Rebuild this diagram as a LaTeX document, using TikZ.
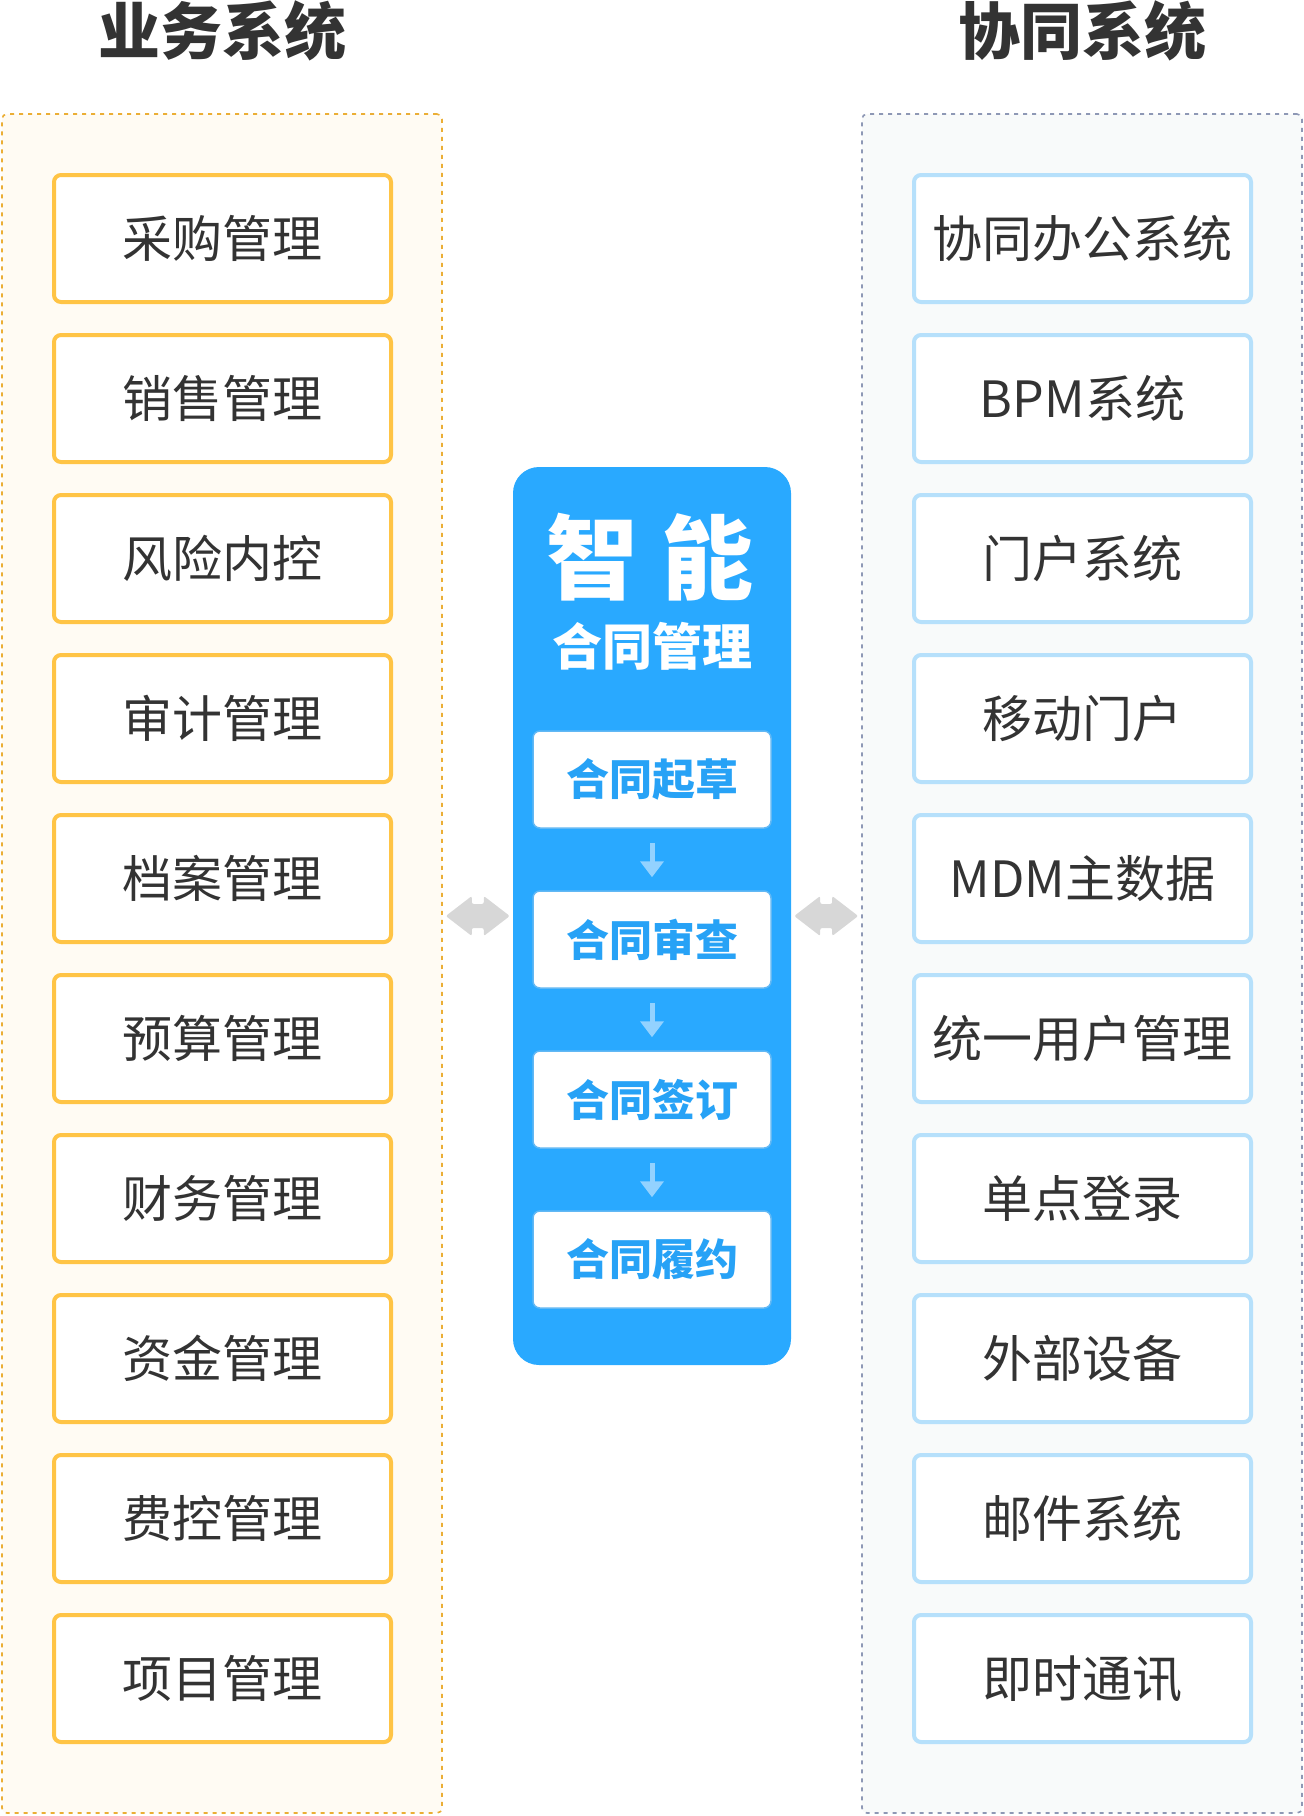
\documentclass[tikz,border=0pt]{standalone}
\usepackage{fontspec}
\setmainfont{Noto Sans CJK SC}
\usetikzlibrary{arrows.meta,calc}
\definecolor{lfill}{HTML}{FFFBF3}
\definecolor{ldash}{HTML}{EBAE35}
\definecolor{lbox}{HTML}{FFC445}
\definecolor{rfill}{HTML}{F8FAFA}
\definecolor{rdash}{HTML}{8E98B5}
\definecolor{rbox}{HTML}{B6E0FB}
\definecolor{mainblue}{HTML}{29A9FF}
\definecolor{subline}{HTML}{62B8F4}
\definecolor{subtext}{HTML}{27A2F6}
\definecolor{darrow}{HTML}{93D2FF}
\definecolor{garrow}{HTML}{D7D7D7}
\definecolor{txt}{HTML}{333333}
\begin{document}
\begin{tikzpicture}[x=1pt,y=-1pt,
  title/.style={font=\fontsize{62}{62}\selectfont\bfseries, text=txt, inner sep=0pt},
  lpanel/.style={draw=ldash, fill=lfill, line width=1.6pt, dash pattern=on 4pt off 5pt, rounded corners=5pt, minimum width=440pt, minimum height=1699pt, inner sep=0pt},
  rpanel/.style={draw=rdash, fill=rfill, line width=1.6pt, dash pattern=on 4pt off 5pt, rounded corners=5pt, minimum width=440pt, minimum height=1699pt, inner sep=0pt},
  sysbox/.style={fill=white, line width=4pt, rounded corners=7pt, minimum width=337pt, minimum height=127pt, inner sep=0pt, text=txt, font=\fontsize{50}{50}\selectfont},
  lsys/.style={sysbox, draw=lbox},
  rsys/.style={sysbox, draw=rbox},
  bluebox/.style={fill=mainblue, rounded corners=26pt, minimum width=278pt, minimum height=898pt, inner sep=0pt},
  stepbox/.style={fill=white, draw=subline, line width=1.5pt, rounded corners=7pt, minimum width=238pt, minimum height=97pt, inner sep=0pt, text=subtext, font=\fontsize{43}{43}\selectfont\bfseries},
  flow/.style={draw=darrow, line width=5pt, -{Triangle[width=23pt,length=16pt]}},
  garrowshape/.style={fill=garrow, rounded corners=2pt}
]
\useasboundingbox (0,0) rectangle (1304,1816);

% titles
\node[title] (t1) at (222,31) {业务系统};
\node[title] (t2) at (1082,31) {协同系统};

% panels
\node[lpanel] (L) at (222,963.5) {};
\node[rpanel] (R) at (1082,963.5) {};

% left boxes
\foreach \i/\t in {0/采购管理,1/销售管理,2/风险内控,3/审计管理,4/档案管理,5/预算管理,6/财务管理,7/资金管理,8/费控管理,9/项目管理}{
  \node[lsys] (l\i) at (222.5,{238.5+160*\i}) {\t};
}
% right boxes
\foreach \i/\t in {0/协同办公系统,1/BPM系统,2/门户系统,3/移动门户,4/MDM主数据,5/统一用户管理,6/单点登录,7/外部设备,8/邮件系统,9/即时通讯}{
  \node[rsys] (r\i) at (1082.5,{238.5+160*\i}) {\t};
}

% center
\node[bluebox] (B) at (652,916) {};
\node[font=\fontsize{92}{92}\selectfont\bfseries, text=white, inner sep=0pt] (zn) at (650,557) {智\hspace{24pt}能};
\node[font=\fontsize{50}{50}\selectfont\bfseries, text=white, inner sep=0pt] (ht) at (652,646) {合同管理};

\node[stepbox] (s1) at (652,779.5) {合同起草};
\node[stepbox] (s2) at (652,939.5) {合同审查};
\node[stepbox] (s3) at (652,1099.5) {合同签订};
\node[stepbox] (s4) at (652,1259.5) {合同履约};

\draw[flow] ([yshift=-14pt]s1.south) -- ([yshift=13pt]s2.north);
\draw[flow] ([yshift=-14pt]s2.south) -- ([yshift=13pt]s3.north);
\draw[flow] ([yshift=-14pt]s3.south) -- ([yshift=13pt]s4.north);

% double arrows between panels
\coordinate (ga) at ($(L.east |- B.west)!0.5!(B.west)$);
\coordinate (gb) at ($(B.east)!0.5!(R.west |- B.east)$);
\foreach \c in {ga,gb}{
  \fill[garrowshape, shift={(\c)}] (-32,0) -- (-6,-20) -- (-6,-12) -- (6,-12) -- (6,-20) -- (32,0) -- (6,20) -- (6,12) -- (-6,12) -- (-6,20) -- cycle;
}
\end{tikzpicture}
\end{document}
